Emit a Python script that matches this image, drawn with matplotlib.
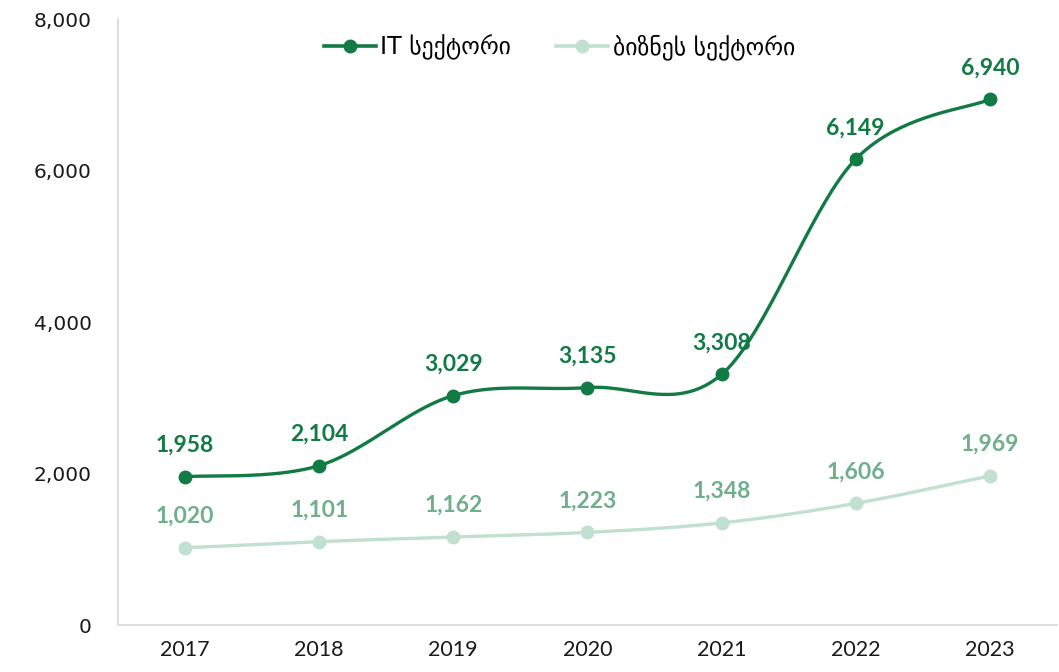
import numpy as np
import matplotlib.pyplot as plt
from matplotlib.lines import Line2D

# data
years = ["2017", "2018", "2019", "2020", "2021", "2022", "2023"]
it_sector = [1958, 2104, 3029, 3135, 3308, 6149, 6940]
biz_sector = [1020, 1101, 1162, 1223, 1348, 1606, 1969]
legend_labels = ["IT სექტორი", "ბიზნეს სექტორი"]

DARK = "#127a45"
LIGHT = "#c2e0d0"
LIGHT_TXT = "#70ae8c"
TXT = "#1a1a1a"


def smooth(x, y, n=40):
    # catmull-rom style curve, like excel's "smoothed line"
    x = np.asarray(x, float)
    y = np.asarray(y, float)
    px = np.concatenate([[x[0]], x, [x[-1]]])
    py = np.concatenate([[y[0]], y, [y[-1]]])
    xs, ys = [], []
    t = np.linspace(0, 1, n)
    for i in range(1, len(px) - 2):
        p0 = np.array([px[i], py[i]])
        p3 = np.array([px[i + 1], py[i + 1]])
        c1 = p0 + (np.array([px[i + 1], py[i + 1]]) - np.array([px[i - 1], py[i - 1]])) / 6
        c2 = p3 - (np.array([px[i + 2], py[i + 2]]) - np.array([px[i], py[i]])) / 6
        b = ((1 - t) ** 3)[:, None] * p0 + (3 * (1 - t) ** 2 * t)[:, None] * c1 \
            + (3 * (1 - t) * t ** 2)[:, None] * c2 + (t ** 3)[:, None] * p3
        xs.append(b[:, 0])
        ys.append(b[:, 1])
    return np.concatenate(xs), np.concatenate(ys)


fig = plt.figure(figsize=(10.59, 6.72), dpi=100)
ax = fig.add_axes([0.1114, 0.0699, 0.8866, 0.9018])

x = np.arange(len(years))

sx, sy = smooth(x, biz_sector)
ax.plot(sx, sy, color=LIGHT, lw=2.4, solid_capstyle="round", zorder=2)
ax.plot(x, biz_sector, "o", color=LIGHT, ms=9, zorder=3)

sx, sy = smooth(x, it_sector)
ax.plot(sx, sy, color=DARK, lw=2.4, solid_capstyle="round", zorder=4)
ax.plot(x, it_sector, "o", color=DARK, ms=9, zorder=5)

for xi, v in zip(x, it_sector):
    ax.annotate(f"{v:,}", (xi, v), xytext=(0, 15), textcoords="offset points",
                ha="center", va="bottom", fontsize=16.5, fontweight="bold",
                color=DARK, family="Lato", zorder=6)
for xi, v in zip(x, biz_sector):
    ax.annotate(f"{v:,}", (xi, v), xytext=(0, 15), textcoords="offset points",
                ha="center", va="bottom", fontsize=16.5, fontweight="bold",
                color=LIGHT_TXT, family="Lato", zorder=6)

ax.set_xlim(-0.5, 6.5)
ax.set_ylim(0, 8000)
ax.set_xticks(x)
ax.set_xticklabels(years, fontsize=15.5, color=TXT, family="Lato")
ax.set_yticks([0, 2000, 4000, 6000, 8000])
ax.set_yticklabels([f"{v:,}" for v in [0, 2000, 4000, 6000, 8000]],
                   fontsize=14.5, color=TXT, family="DejaVu Sans")
ax.tick_params(axis="both", length=0)
ax.tick_params(axis="y", pad=19)
ax.tick_params(axis="x", pad=11)

for s in ["top", "right"]:
    ax.spines[s].set_visible(False)
ax.spines["left"].set_color("#d9d9d9")
ax.spines["bottom"].set_color("#d9d9d9")
ax.spines["left"].set_linewidth(1.2)
ax.spines["bottom"].set_linewidth(1.2)

handles = [
    Line2D([], [], color=DARK, lw=2.6, marker="o", ms=9),
    Line2D([], [], color=LIGHT, lw=2.6, marker="o", ms=9),
]
ax.legend(handles, legend_labels, loc="upper center", bbox_to_anchor=(0.47, 1.01),
          ncol=2, frameon=False, handlelength=2.2, handletextpad=0.2,
          columnspacing=1.9, prop={"family": "DejaVu Sans", "size": 17})

plt.savefig("out.png", dpi=100)
